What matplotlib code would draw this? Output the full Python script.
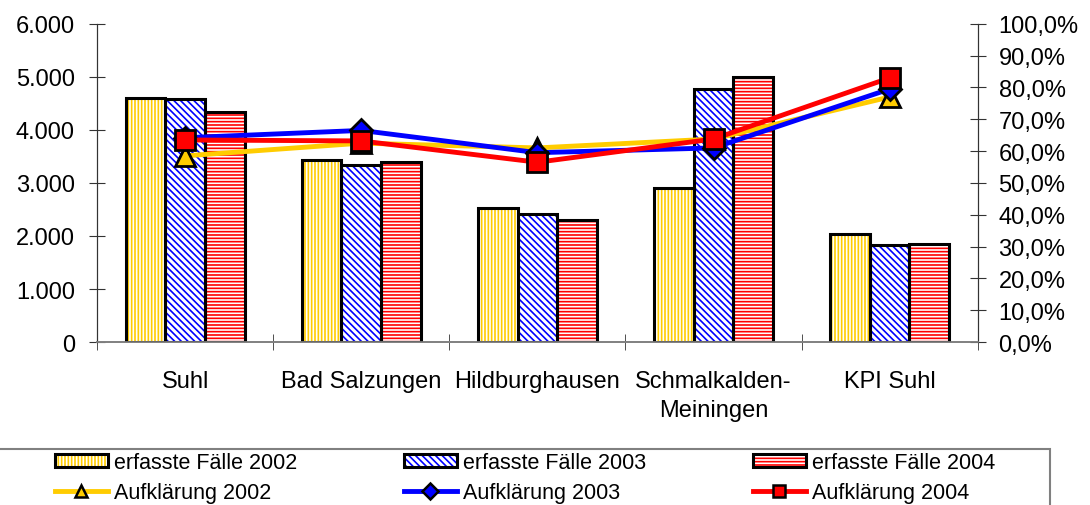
import numpy as np
import matplotlib
matplotlib.use("Agg")
import matplotlib.pyplot as plt
from matplotlib.patches import Patch, Rectangle
from matplotlib.lines import Line2D
from matplotlib.legend_handler import HandlerTuple
from matplotlib.ticker import FuncFormatter, MultipleLocator

plt.rcParams['font.family'] = ['Liberation Sans', 'DejaVu Sans']
plt.rcParams['hatch.linewidth'] = 1.2

# data
categories = ["Suhl", "Bad Salzungen", "Hildburghausen", "Schmalkalden-\nMeiningen", "KPI Suhl"]
faelle_2002 = [4600, 3430, 2530, 2905, 2040]
faelle_2003 = [4590, 3340, 2415, 4775, 1830]
faelle_2004 = [4340, 3395, 2300, 5000, 1850]
aufkl_2002 = [58.5, 62.5, 61.0, 63.8, 77.0]
aufkl_2003 = [64.2, 66.5, 59.5, 61.0, 79.5]
aufkl_2004 = [63.5, 63.2, 56.5, 63.8, 83.0]

yellow = "#FFCC00"
blue = "#0000FF"
red = "#FF0000"
fs = 17

fig = plt.figure(figsize=(10.9, 5.06), dpi=100)
ax = fig.add_axes([0.089, 0.322, 0.808, 0.629])
ax2 = ax.twinx()

x = np.arange(len(categories))
w = 0.225
bar_series = [(faelle_2002, yellow, "|||||", -w),
              (faelle_2003, blue, "\\\\\\\\\\", 0),
              (faelle_2004, red, "-----", w)]
for vals, col, hatch, off in bar_series:
    # hatched fill first, black outline on top
    ax.bar(x + off, vals, w, color="white", edgecolor=col, hatch=hatch, linewidth=0, zorder=2)
    ax.bar(x + off, vals, w, fill=False, edgecolor="black", linewidth=2.2, zorder=3)

line_series = [(aufkl_2002, yellow, "^"), (aufkl_2003, blue, "D"), (aufkl_2004, red, "s")]
for vals, col, mk in line_series:
    ms = 11 if mk == "D" else 14
    ax2.plot(x, vals, color=col, lw=3.5, marker=mk, ms=ms, mfc=col, mec="black", mew=2, zorder=4)

ax.set_xlim(-0.5, len(categories) - 0.5)
ax.set_ylim(0, 6000)
ax2.set_ylim(0, 100)
ax.yaxis.set_major_locator(MultipleLocator(1000))
ax2.yaxis.set_major_locator(MultipleLocator(10))
ax.yaxis.set_major_formatter(FuncFormatter(lambda v, p: f"{int(v):,}".replace(",", ".")))
ax2.yaxis.set_major_formatter(FuncFormatter(lambda v, p: f"{v:.1f}".replace(".", ",") + "%"))

ax.set_xticks(x)
ax.set_xticklabels(categories, fontsize=fs, linespacing=1.45)
ax.set_xticks(np.arange(len(categories) + 1) - 0.5, minor=True)
ax.tick_params(axis="x", which="major", length=0, pad=20)
ax.tick_params(axis="x", which="minor", length=11, direction="inout", color="#333333")
ax.tick_params(axis="y", labelsize=fs, direction="inout", length=12, color="#333333", pad=10)
ax2.tick_params(axis="y", labelsize=fs, direction="inout", length=12, color="#333333", pad=9)

for a in (ax, ax2):
    a.spines["top"].set_visible(False)
    a.spines["left"].set_color("#333333")
    a.spines["right"].set_color("#333333")
    a.spines["bottom"].set_color("#808080")
    a.spines["bottom"].set_linewidth(1.2)

# legend proxies
def bar_handle(col, hatch):
    return (Patch(facecolor="white", edgecolor=col, hatch=hatch, linewidth=0),
            Patch(fill=False, edgecolor="black", linewidth=2.2))

def line_handle(col, mk):
    return Line2D([], [], color=col, lw=3.5, marker=mk, ms=8, mfc=col, mec="black", mew=1.8)

handles = [bar_handle(yellow, "|||||"), line_handle(yellow, "^"),
           bar_handle(blue, "\\\\\\\\\\"), line_handle(blue, "D"),
           bar_handle(red, "-----"), line_handle(red, "s")]
labels = ["erfasste Fälle 2002", "Aufklärung 2002",
          "erfasste Fälle 2003", "Aufklärung 2003",
          "erfasste Fälle 2004", "Aufklärung 2004"]
leg = fig.legend(handles, labels, ncol=3, loc="upper left",
                 bbox_to_anchor=(55 / 1090, 1 - 453 / 506, 940 / 1090, 0.0),
                 mode="expand", fontsize=15.5, frameon=False,
                 handlelength=2.45, handleheight=0.6, handletextpad=0.28,
                 borderpad=0, labelspacing=0.42, borderaxespad=0,
                 handler_map={tuple: HandlerTuple(ndivide=1, pad=0)})

# legend frame, runs off the bottom/left like in the original
fig.add_artist(Rectangle((-0.01, -0.05), 1050 / 1090 + 0.01, 0.05 + 1 - 450 / 506,
                         transform=fig.transFigure, fill=False,
                         edgecolor="#808080", linewidth=1.5))

fig.savefig("out.png", dpi=100)
